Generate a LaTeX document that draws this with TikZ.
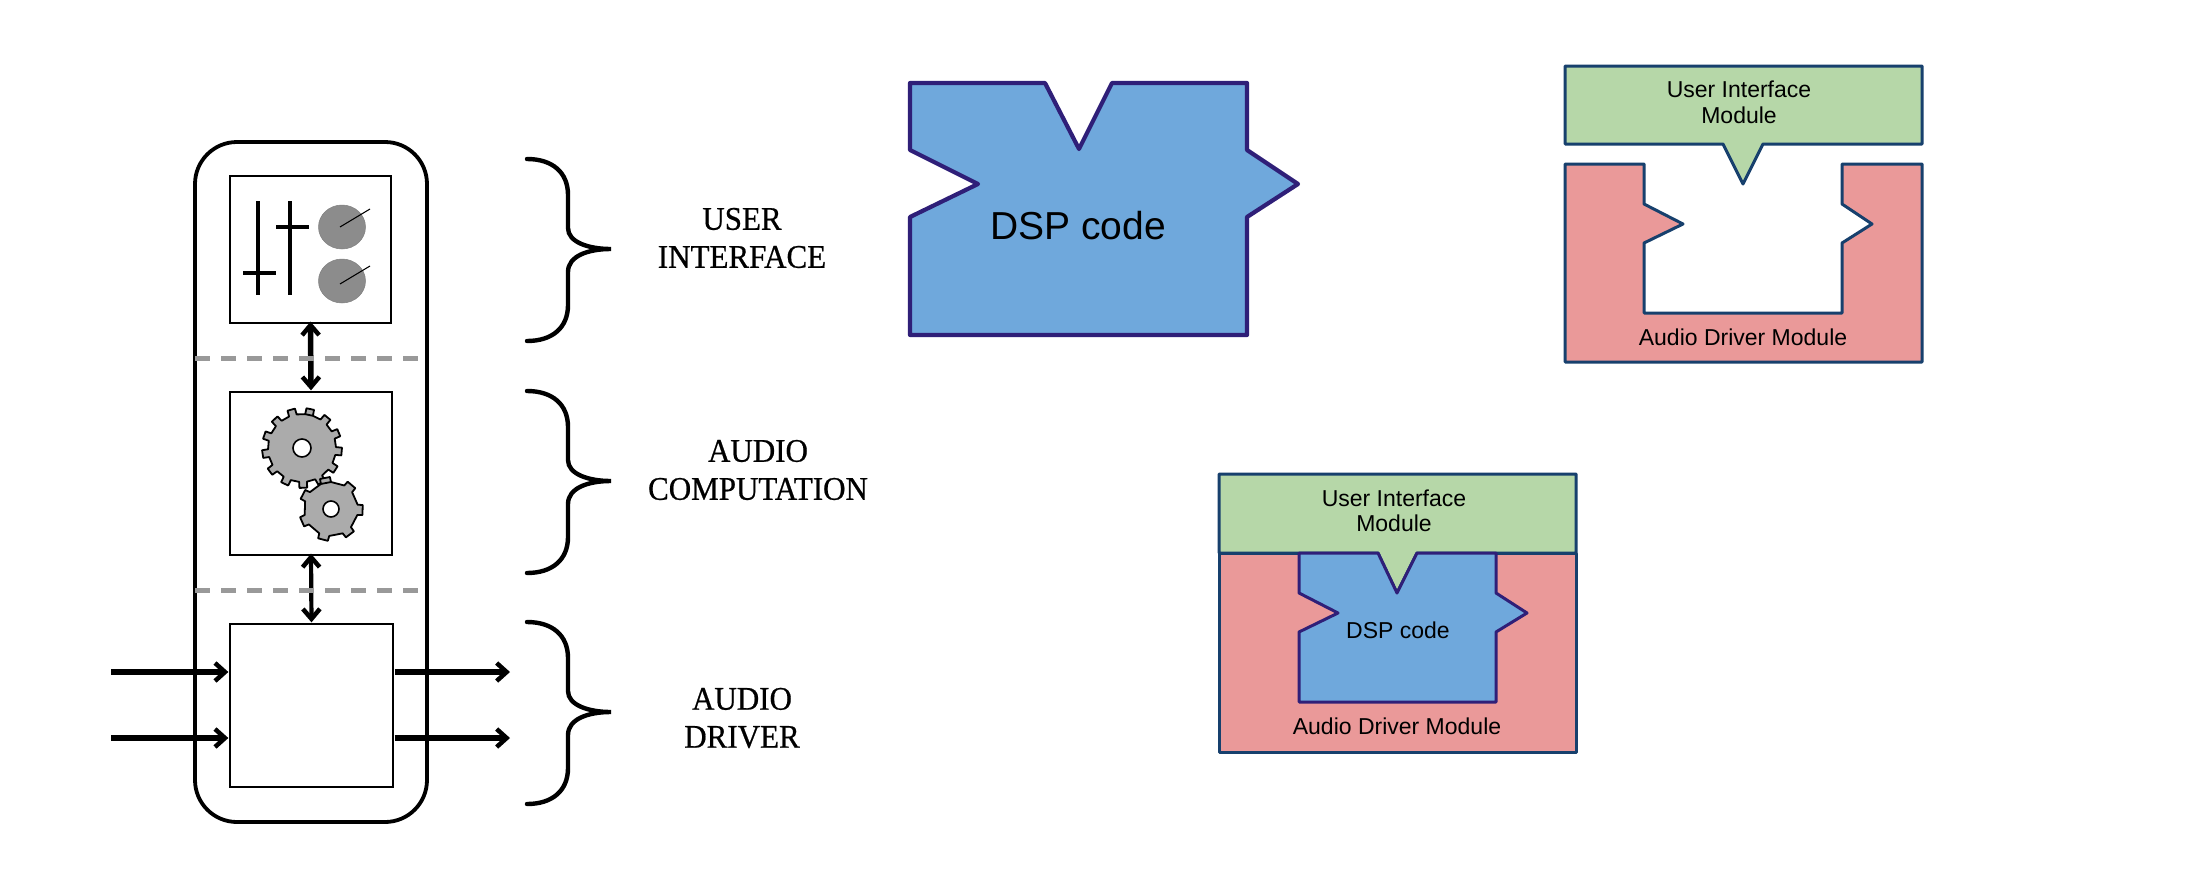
\documentclass[tikz,border=0pt]{standalone}
\usepackage{fontspec}
\setmainfont{Liberation Sans}
\newfontfamily\labelfont[FakeStretch=0.94,FakeBold=0.6]{Liberation Serif}
\usetikzlibrary{arrows.meta,calc}
\definecolor{dspfill}{HTML}{6FA8DC}
\definecolor{dspline}{HTML}{2F1F78}
\definecolor{redfill}{HTML}{EA9999}
\definecolor{greenfill}{HTML}{B6D7A8}
\definecolor{modline}{HTML}{17406D}
\definecolor{gearfill}{HTML}{ABABAB}
\definecolor{knobfill}{HTML}{8C8C8C}
\definecolor{dashgray}{HTML}{999999}
\tikzset{
  x=1pt,y=-1pt,
  stagebox/.style={draw=black,line width=1.3pt,fill=white,inner sep=0pt,minimum width=#1},
  frameline/.style={draw=black,line width=3.8pt,rounded corners=42pt},
  bidir/.style={line width=#1,{Straight Barb[length=10pt,width=17pt,line width=4.5pt]}-{Straight Barb[length=10pt,width=17pt,line width=4.5pt]}},
  ioarrow/.style={line width=6pt,-{Straight Barb[length=10pt,width=18pt,line width=4.5pt]}},
  sepline/.style={draw=dashgray,line width=5pt,dash pattern=on 15pt off 11pt},
  slider/.style={line width=3.2pt},
  needle/.style={line width=1.1pt},
  knob/.style={fill=knobfill,draw=gray,line width=.5pt},
  bracestyle/.style={line width=4.4pt,line cap=round},
  stagelabel/.style={font=\labelfont\fontsize{33}{38}\selectfont,align=center,inner sep=0pt},
  modlabel/.style={font=\fontsize{23}{25.5}\selectfont,align=center,inner sep=0pt},
  dsplabelbig/.style={font=\fontsize{39}{40}\selectfont,inner sep=0pt},
  dspshape/.style={fill=dspfill,draw=dspline,line width=4.2pt,line join=round},
  dspshapesm/.style={fill=dspfill,draw=dspline,line width=3pt,line join=round},
  redshape/.style={fill=redfill,draw=modline,line width=3pt,line join=round},
  greenshape/.style={fill=greenfill,draw=modline,line width=3pt,line join=round},
  gearshape/.style={fill=gearfill,draw=black,line width=1.8pt,line join=round},
}
\newcommand{\gearat}[7]{% cx cy root outer teeth start hole
  \pgfmathsetmacro{\gstep}{360/#5}
  \pgfmathsetmacro{\gw}{min(\gstep*0.24,11)}
  \pgfmathsetmacro{\gt}{min(\gstep*0.2,9)}
  \draw[gearshape] (#1,#2) ++(-#6+\gw:#3)
    \foreach \k in {0,...,#5} {
      -- ($(#1,#2)+(-#6-\gstep*\k+\gw:#3)$)
      -- ($(#1,#2)+(-#6-\gstep*\k+\gt:#4)$)
      -- ($(#1,#2)+(-#6-\gstep*\k-\gt:#4)$)
      -- ($(#1,#2)+(-#6-\gstep*\k-\gw:#3)$)
    } -- cycle;
  \draw[fill=white,draw=black,line width=1.6pt] (#1,#2) circle[radius=#7];
}
\newcommand{\bracepath}[1]{%
  \draw[bracestyle,shift={(0,#1)}] (527,159) .. controls (552,159) and (568,172) .. (568,195)
    -- (568,228) .. controls (568,242) and (588,249) .. (611,249)
    .. controls (588,249) and (568,256) .. (568,272)
    -- (568,305) .. controls (568,328) and (552,341) .. (527,341);
}
\begin{document}
\begin{tikzpicture}
\useasboundingbox (0,0) rectangle (2210,870);
\fill[white] (0,0) rectangle (2210,870);

% frame
\node[frameline,inner sep=0pt,minimum width=232pt,minimum height=680pt] (frame) at (311,482) {};

% stage boxes
\node[stagebox=161pt,minimum height=147pt] (ui) at (310.5,249.5) {};
\node[stagebox=162pt,minimum height=163pt] (comp) at (311,473.5) {};
\node[stagebox=163pt,minimum height=163pt] (drv) at (311.5,705.5) {};

% connectors
\draw[bidir=5.5pt] ([yshift=2pt]ui.south) -- ([yshift=1pt]comp.north);
\draw[bidir=4.2pt] ([yshift=2pt]comp.north |- comp.south) -- ([yshift=1pt]drv.north);
\coordinate (s1a) at (195,358); \coordinate (s1b) at (418,358);
\coordinate (s2a) at (195,590); \coordinate (s2b) at (418,590);
\draw[sepline] (s1a) -- (s1b);
\draw[sepline] (s2a) -- (s2b);
\coordinate (in1) at (111,672); \coordinate (in2) at (111,738);
\coordinate (out1) at (510,672); \coordinate (out2) at (510,738);
\draw[ioarrow] (in1) -- ([xshift=-1pt]drv.west |- in1);
\draw[ioarrow] (in2) -- ([xshift=-1pt]drv.west |- in2);
\draw[ioarrow] ([xshift=1pt]drv.east |- out1) -- (out1);
\draw[ioarrow] ([xshift=1pt]drv.east |- out2) -- (out2);

% sliders and knobs
\draw[slider] (258,201) -- (258,295);
\draw[slider] (243,273) -- (276,273);
\draw[slider] (290,201) -- (290,295);
\draw[slider] (276,227) -- (309,227);
\draw[knob] (342,227) ellipse[x radius=23.5,y radius=22];
\draw[knob] (342,281) ellipse[x radius=23.5,y radius=22];
\draw[needle] (340,227) -- (370,209);
\draw[needle] (340,284) -- (370,266);

% gears
\gearat{302}{448}{34}{40}{13}{78}{9}
\gearat{331}{509}{27}{32}{7}{101}{8}

% braces
\bracepath{0}
\bracepath{232}
\bracepath{463}

% stage labels
\node[stagelabel] (lab1) at (742,238) {USER\\INTERFACE};
\node[stagelabel] (lab2) at (758,470) {AUDIO\\COMPUTATION};
\node[stagelabel] (lab3) at (742,718) {AUDIO\\DRIVER};

% DSP block
\draw[dspshape] (910,83) -- (1045,83) -- (1079,149) -- (1112,83) -- (1247,83) -- (1247,150)
  -- (1298,184) -- (1247,217) -- (1247,335) -- (910,335) -- (910,217) -- (978,184) -- (910,150) -- cycle;
\node[dsplabelbig] (dsp) at (1078,226) {DSP code};

% separated modules
\draw[greenshape] (1565,66) -- (1922,66) -- (1922,144) -- (1763,144) -- (1743,184) -- (1723,144) -- (1565,144) -- cycle;
\node[modlabel] (ui1) at (1739,102.5) {User Interface\\Module};
\draw[redshape] (1565,164) -- (1644,164) -- (1644,204) -- (1683,224) -- (1644,243) -- (1644,313) -- (1842,313)
  -- (1842,243) -- (1872,224) -- (1842,204) -- (1842,164) -- (1922,164) -- (1922,362) -- (1565,362) -- cycle;
\node[modlabel] (ad1) at (1743,337) {Audio Driver Module};

% assembled modules
\draw[redshape] (1219,553) rectangle (1576,752);
\draw[greenshape] (1219,474) -- (1576,474) -- (1576,553) -- (1417,553) -- (1397,593) -- (1378,553) -- (1219,553) -- cycle;
\draw[dspshapesm] (1299,553) -- (1378,553) -- (1397,593) -- (1417,553) -- (1496,553) -- (1496,593)
  -- (1527,613) -- (1496,632) -- (1496,702) -- (1299,702) -- (1299,632) -- (1338,613) -- (1299,593) -- cycle;
\node[modlabel] (ui2) at (1394,511) {User Interface\\Module};
\node[modlabel] (dsp2) at (1398,630) {DSP code};
\node[modlabel] (ad2) at (1397,726) {Audio Driver Module};
\end{tikzpicture}
\end{document}
